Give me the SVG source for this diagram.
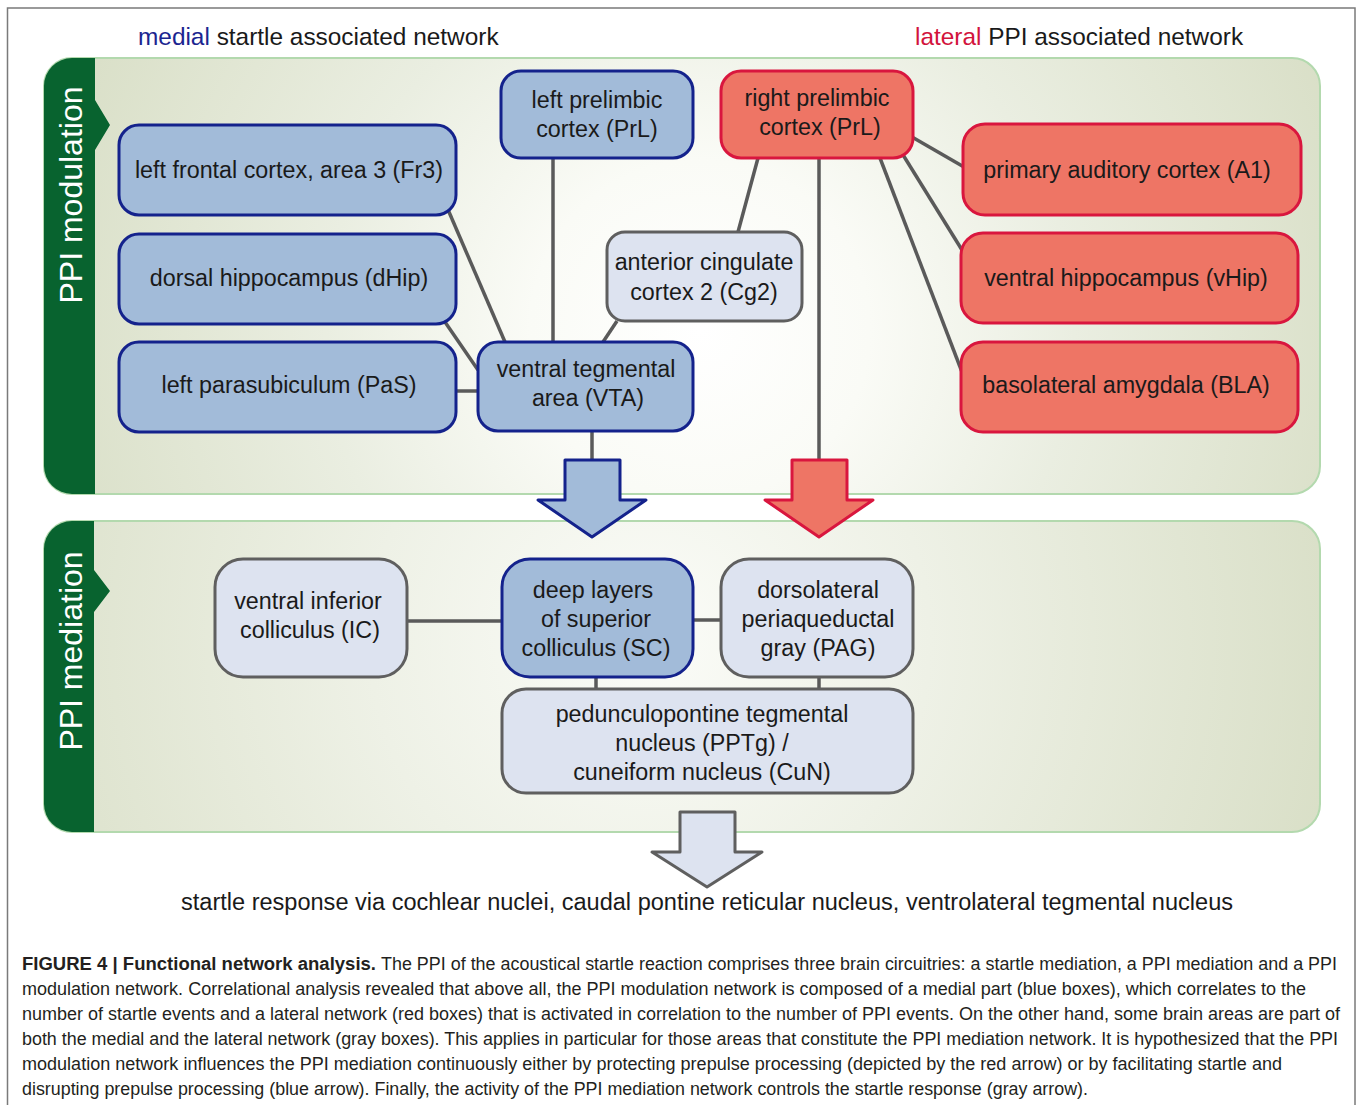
<svg xmlns="http://www.w3.org/2000/svg" width="1358" height="1105" viewBox="0 0 1358 1105">
<defs>
<radialGradient id="g1" gradientUnits="userSpaceOnUse" cx="700" cy="330" r="680">
<stop offset="0" stop-color="#ffffff"/>
<stop offset="0.25" stop-color="#fafbf6"/>
<stop offset="0.55" stop-color="#eaeee1"/>
<stop offset="1" stop-color="#d9dfc7"/>
</radialGradient>
<radialGradient id="g2" gradientUnits="userSpaceOnUse" cx="650" cy="640" r="700">
<stop offset="0" stop-color="#fbfcf8"/>
<stop offset="0.4" stop-color="#eef1e6"/>
<stop offset="1" stop-color="#d9dfc7"/>
</radialGradient>
</defs>
<style>
.blue{fill:#a2bbd9;stroke:#14228c;stroke-width:3}
.red{fill:#ee7565;stroke:#d9163e;stroke-width:3}
.gray{fill:#dde3f0;stroke:#5f5f5f;stroke-width:3}
.t{font-family:"Liberation Sans",Arial,sans-serif;font-size:23.3px;fill:#1a1a1a;text-anchor:middle}
.conn line{stroke:#5a5a5a;stroke-width:3.5}
.tab{fill:#08632f}
.tabt{font-family:"Liberation Sans",Arial,sans-serif;font-size:32px;fill:#ffffff;text-anchor:middle}
.hdr{font-family:"Liberation Sans",Arial,sans-serif;font-size:24.4px;fill:#1a1a1a}
.cap{font-family:"Liberation Sans",Arial,sans-serif;font-size:17.5px;fill:#231f20}
.panel{stroke:#b3d9ae;stroke-width:2}
</style>
<rect x="0" y="0" width="1358" height="1105" fill="#ffffff"/>
<rect x="7.5" y="8" width="1347.5" height="1120" fill="none" stroke="#7a7a7a" stroke-width="1.5"/>

<text class="hdr" x="138" y="45"><tspan fill="#1b2590">medial</tspan> startle associated network</text>
<text class="hdr" x="915" y="45"><tspan fill="#d2143c">lateral</tspan> PPI associated network</text>

<g id="panel-modulation">
<rect class="panel" x="44" y="58" width="1276" height="436" rx="28" fill="url(#g1)"/>
<path class="tab" d="M95,58 H72 A28,28 0 0 0 44,86 V466 A28,28 0 0 0 72,494 H95 V150 L110,125 L95,100 Z"/>
<text class="tabt" transform="translate(82,195) rotate(-90)">PPI modulation</text>
</g>
<g id="panel-mediation">
<rect class="panel" x="44" y="521" width="1276" height="311" rx="28" fill="url(#g2)"/>
<path class="tab" d="M94,521 H72 A28,28 0 0 0 44,549 V804 A28,28 0 0 0 72,832 H94 V612 L110,591 L94,570 Z"/>
<text class="tabt" transform="translate(82,651) rotate(-90)">PPI mediation</text>
</g>

<g id="connectors" class="conn">
<line x1="446" y1="205" x2="505" y2="342"/>
<line x1="445" y1="322" x2="478" y2="370"/>
<line x1="457" y1="391" x2="478" y2="391"/>
<line x1="553" y1="158" x2="553" y2="342"/>
<line x1="617" y1="321" x2="603" y2="342"/>
<line x1="758" y1="158" x2="738" y2="232"/>
<line x1="819" y1="158" x2="819" y2="461"/>
<line x1="912" y1="137" x2="964" y2="167"/>
<line x1="900" y1="150" x2="962" y2="250"/>
<line x1="880" y1="158" x2="962" y2="372"/>
<line x1="592" y1="431" x2="592" y2="461"/>
<line x1="407" y1="621" x2="502" y2="621"/>
<line x1="693" y1="620" x2="721" y2="620"/>
<line x1="596" y1="677" x2="596" y2="689"/>
<line x1="819" y1="677" x2="819" y2="689"/>
</g>

<g id="arrow-blue"><path class="blue" d="M565,460 H620 V500 H646 L592,537 L538,500 H565 Z" stroke-linejoin="round"/></g>
<g id="arrow-red"><path class="red" d="M792,460 H847 V500 H873 L819,537 L765,500 H792 Z" stroke-linejoin="round"/></g>
<g id="arrow-gray"><path class="gray" d="M680,812 H735 V852 H762 L707,887 L652,852 H680 Z" stroke-linejoin="round"/></g>

<g id="node-fr3"><rect class="blue" x="119" y="125" width="337" height="90" rx="20"/><text class="t" x="289" y="178">left frontal cortex, area 3 (Fr3)</text></g>
<g id="node-dhip"><rect class="blue" x="119" y="234" width="337" height="90" rx="20"/><text class="t" x="289" y="286">dorsal hippocampus (dHip)</text></g>
<g id="node-pas"><rect class="blue" x="119" y="342" width="337" height="90" rx="20"/><text class="t" x="289" y="393">left parasubiculum (PaS)</text></g>
<g id="node-lprl"><rect class="blue" x="501" y="71" width="192" height="87" rx="20"/><text class="t" x="597" y="108">left prelimbic</text><text class="t" x="597" y="137">cortex (PrL)</text></g>
<g id="node-rprl"><rect class="red" x="721" y="71" width="192" height="87" rx="20"/><text class="t" x="817" y="106">right prelimbic</text><text class="t" x="820" y="135">cortex (PrL)</text></g>
<g id="node-cg2"><rect class="gray" x="607" y="232" width="195" height="89" rx="18"/><text class="t" x="704" y="270">anterior cingulate</text><text class="t" x="704" y="300">cortex 2 (Cg2)</text></g>
<g id="node-vta"><rect class="blue" x="478" y="342" width="215" height="89" rx="20"/><text class="t" x="586" y="377">ventral tegmental</text><text class="t" x="588" y="406">area (VTA)</text></g>
<g id="node-a1"><rect class="red" x="963" y="124" width="338" height="91" rx="22"/><text class="t" x="1127" y="178">primary auditory cortex (A1)</text></g>
<g id="node-vhip"><rect class="red" x="961" y="233" width="337" height="90" rx="22"/><text class="t" x="1126" y="286">ventral hippocampus (vHip)</text></g>
<g id="node-bla"><rect class="red" x="961" y="342" width="337" height="90" rx="22"/><text class="t" x="1126" y="393">basolateral amygdala (BLA)</text></g>

<g id="node-ic"><rect class="gray" x="215" y="559" width="192" height="118" rx="28"/><text class="t" x="308" y="609">ventral inferior</text><text class="t" x="310" y="638">colliculus (IC)</text></g>
<g id="node-sc"><rect class="blue" x="502" y="559" width="191" height="118" rx="28"/><text class="t" x="593" y="598">deep layers</text><text class="t" x="596" y="627">of superior</text><text class="t" x="596" y="656">colliculus (SC)</text></g>
<g id="node-pag"><rect class="gray" x="721" y="559" width="192" height="118" rx="28"/><text class="t" x="818" y="598">dorsolateral</text><text class="t" x="818" y="627">periaqueductal</text><text class="t" x="818" y="656">gray (PAG)</text></g>
<g id="node-pptg"><rect class="gray" x="502" y="689" width="411" height="104" rx="24"/><text class="t" x="702" y="722">pedunculopontine tegmental</text><text class="t" x="702" y="751">nucleus (PPTg) /</text><text class="t" x="702" y="780">cuneiform nucleus (CuN)</text></g>

<text class="t" x="707" y="910" textLength="1052" lengthAdjust="spacingAndGlyphs">startle response via cochlear nuclei, caudal pontine reticular nucleus, ventrolateral tegmental nucleus</text>

<g id="caption">
<text class="cap" x="22" y="970" font-weight="bold" textLength="354" lengthAdjust="spacingAndGlyphs">FIGURE 4 | Functional network analysis.</text>
<text class="cap" x="381" y="970" textLength="956" lengthAdjust="spacingAndGlyphs">The PPI of the acoustical startle reaction comprises three brain circuitries: a startle mediation, a PPI mediation and a PPI</text>
<text class="cap" x="22" y="995" textLength="1284" lengthAdjust="spacingAndGlyphs">modulation network. Correlational analysis revealed that above all, the PPI modulation network is composed of a medial part (blue boxes), which correlates to the</text>
<text class="cap" x="22" y="1020" textLength="1318" lengthAdjust="spacingAndGlyphs">number of startle events and a lateral network (red boxes) that is activated in correlation to the number of PPI events. On the other hand, some brain areas are part of</text>
<text class="cap" x="22" y="1045" textLength="1316" lengthAdjust="spacingAndGlyphs">both the medial and the lateral network (gray boxes). This applies in particular for those areas that constitute the PPI mediation network. It is hypothesized that the PPI</text>
<text class="cap" x="22" y="1070" textLength="1260" lengthAdjust="spacingAndGlyphs">modulation network influences the PPI mediation continuously either by protecting prepulse processing (depicted by the red arrow) or by facilitating startle and</text>
<text class="cap" x="22" y="1095" textLength="1066" lengthAdjust="spacingAndGlyphs">disrupting prepulse processing (blue arrow). Finally, the activity of the PPI mediation network controls the startle response (gray arrow).</text>
</g>
</svg>
